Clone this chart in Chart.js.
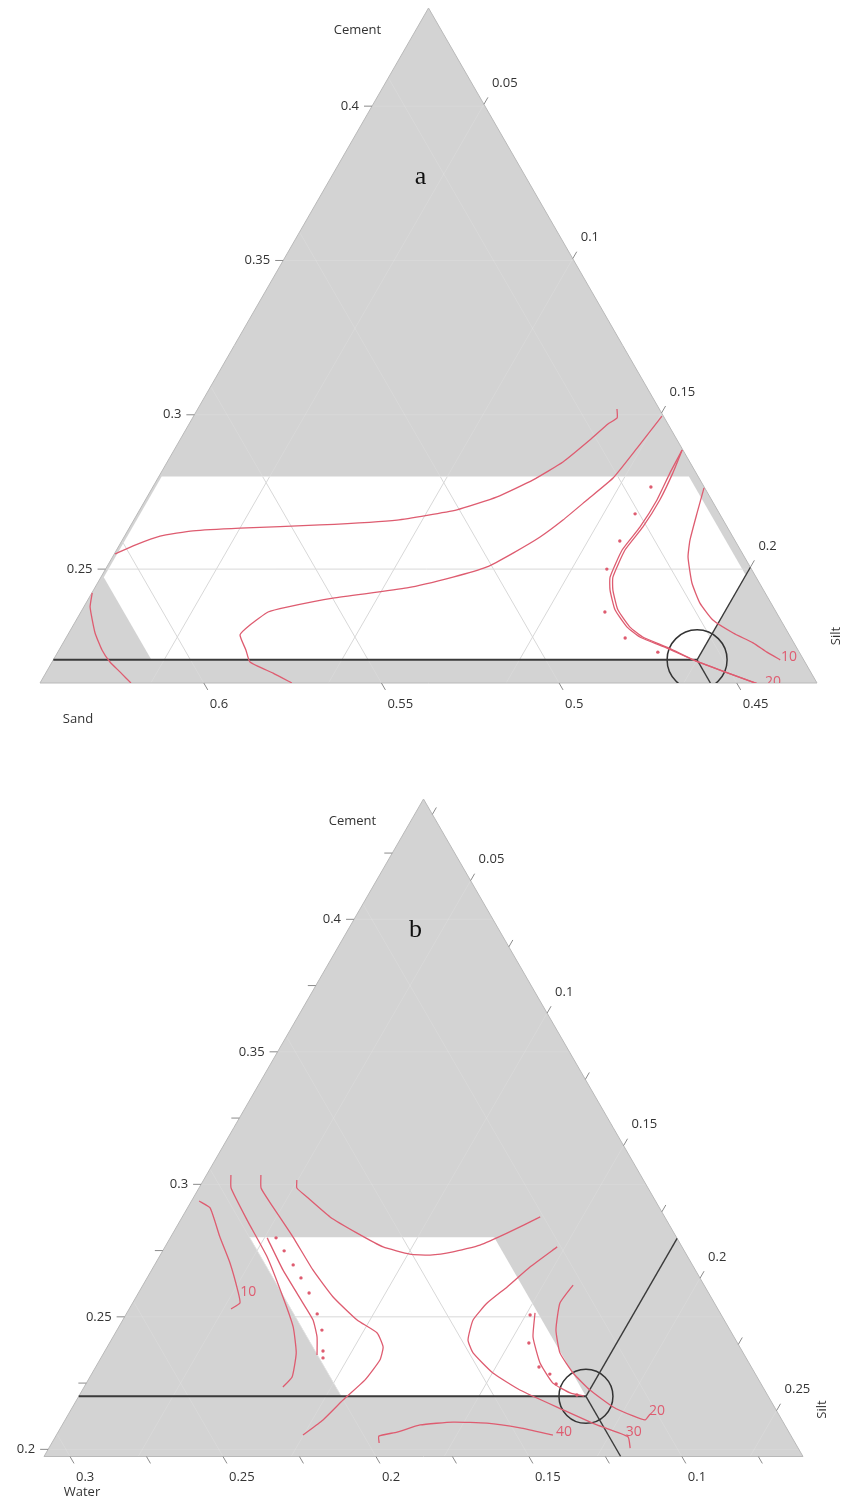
<!DOCTYPE html>
<html><head><meta charset="utf-8">
<script src="https://cdn.jsdelivr.net/npm/chart.js@4.4.1/dist/chart.umd.min.js"></script>
<style>
html,body{margin:0;padding:0;background:#fff;}
#wrap{position:relative;width:848px;height:1503px;overflow:hidden;}
canvas{position:absolute;left:0;}
#ca{top:0;width:848px;height:750px;}
#cb{top:750px;width:848px;height:753px;}
</style></head><body>
<div id="wrap"><canvas id="ca" width="848" height="750"></canvas><canvas id="cb" width="848" height="753"></canvas></div>
<script>
// ================= DATA (compositions: points are [silt, cement]) =================
// ---- Panel a : Cement / Silt / Sand (water fixed)
const aFrame = {cmin:0.2131, smin:0.0188, L:0.2187, total:0.878};
const aCementTicks = [0.25, 0.3, 0.35, 0.4];
const aSiltTicks   = [0.05, 0.1, 0.15, 0.2];
const aSandTicks   = [0.6, 0.55, 0.5, 0.45];
const aCementRange = [0.2206, 0.28];
const aSiltRange   = [0.0196, 0.2];
const aSandRange   = [0.43, 0.611];
const aOptimum     = [0.2, 0.2206];
const aContour1 = [[0.0190,0.2549],[0.0232,0.2578],[0.0288,0.2607],[0.0372,0.2624],[0.0500,0.2633],[0.0720,0.2643],[0.0929,0.2659],[0.1081,0.2692],[0.1173,0.2734],[0.1247,0.2789],[0.1302,0.2847],[0.1342,0.2918],[0.1367,0.2970],[0.1383,0.2990],[0.1368,0.3019]];
const aContour2 = [[0.0897,0.2131],[0.0828,0.2163],[0.0745,0.2199],[0.0714,0.2238],[0.0673,0.2287],[0.0685,0.2319],[0.0715,0.2361],[0.0760,0.2377],[0.0875,0.2406],[0.1067,0.2439],[0.1179,0.2474],[0.1258,0.2507],[0.1309,0.2552],[0.1359,0.2604],[0.1396,0.2659],[0.1431,0.2724],[0.1469,0.2795],[0.1488,0.2892],[0.1506,0.2996]];
const aContour3 = [[0.1618,0.2886],[0.1621,0.2811],[0.1628,0.2724],[0.1624,0.2636],[0.1611,0.2562],[0.1621,0.2474],[0.1642,0.2432],[0.1688,0.2368],[0.1750,0.2312],[0.1802,0.2280],[0.1896,0.2244],[0.1989,0.2206],[0.2081,0.2173],[0.2193,0.2134],[0.2268,0.2108]];
const aContour3b = [[0.1618,0.2886],[0.1629,0.2811],[0.1636,0.2724],[0.1632,0.2636],[0.1619,0.2562],[0.1629,0.2474],[0.1650,0.2432],[0.1696,0.2368],[0.1758,0.2312],[0.1810,0.2280],[0.1902,0.2244],[0.1989,0.2206],[0.2081,0.2173],[0.2193,0.2134],[0.2268,0.2108]];
const aContour4 = [[0.1741,0.2763],[0.1762,0.2682],[0.1786,0.2594],[0.1808,0.2539],[0.1861,0.2455],[0.1916,0.2390],[0.1980,0.2335],[0.2058,0.2293],[0.2130,0.2261],[0.2184,0.2231],[0.2234,0.2206]];
const aContour5 = [[0.0189,0.2423],[0.0206,0.2377],[0.0262,0.2293],[0.0309,0.2238],[0.0351,0.2199],[0.0395,0.2167],[0.0444,0.2131]];
const aDots = [[0.1590,0.2766],[0.1589,0.2679],[0.1590,0.2591],[0.1599,0.2500],[0.1663,0.2361],[0.1762,0.2277],[0.1877,0.2231]];
const aLabelText = ['10', '20'];
const aLabelAt   = [[0.2254,0.2215],[0.2250,0.2134]];

// ---- Panel b : Cement / Silt / Water (sand fixed)
const bFrame = {cmin:0.1973, smin:0.0192, L:0.2481, total:0.525};
const bCementTicks = [0.2, 0.25, 0.3, 0.35, 0.4];
const bCementMinor = [0.225, 0.275, 0.325, 0.375, 0.425];
const bSiltTicks   = [0.05, 0.1, 0.15, 0.2, 0.25];
const bSiltMinor   = [0.025, 0.075, 0.125, 0.175, 0.225];
const bWaterTicks  = [0.3, 0.25, 0.2, 0.15, 0.1];
const bWaterMinor  = [0.275, 0.225, 0.175, 0.125, 0.075];
const bCementRange = [0.22, 0.28];
const bWaterRange  = [0.12, 0.2];
const bOptimum     = [0.185, 0.22];
const bContour1 = [[0.0217,0.2937],[0.0266,0.2911],[0.0353,0.2801],[0.0435,0.2703],[0.0516,0.2594],[0.0543,0.2552],[0.0525,0.2530]];
const bContour2 = [[0.0272,0.3035],[0.0297,0.2986],[0.0409,0.2866],[0.0545,0.2726],[0.0672,0.2575],[0.0762,0.2462],[0.0821,0.2364],[0.0853,0.2273],[0.0842,0.2235]];
const bContour3 = [[0.0370,0.3035],[0.0395,0.2986],[0.0453,0.2930],[0.0592,0.2801],[0.0719,0.2677],[0.0836,0.2575],[0.0958,0.2488],[0.1048,0.2439],[0.1094,0.2386],[0.1108,0.2337],[0.1097,0.2262],[0.1063,0.2186],[0.1035,0.2111],[0.0998,0.2054]];
const bContour4 = [[0.0509,0.2798],[0.0621,0.2677],[0.0749,0.2552],[0.0814,0.2488],[0.0859,0.2424],[0.0893,0.2356]];
const bContour5 = [[0.0497,0.3016],[0.0512,0.2986],[0.0562,0.2952],[0.0675,0.2877],[0.0794,0.2816],[0.0905,0.2764],[0.1006,0.2737],[0.1074,0.2733],[0.1143,0.2745],[0.1218,0.2771],[0.1284,0.2816],[0.1362,0.2877]];
const bContour6 = [[0.1474,0.2764],[0.1423,0.2688],[0.1386,0.2613],[0.1351,0.2552],[0.1337,0.2488],[0.1358,0.2413],[0.1399,0.2364],[0.1502,0.2288],[0.1622,0.2224],[0.1801,0.2149],[0.1940,0.2092],[0.2064,0.2047],[0.2092,0.2005]];
const bContour7 = [[0.1526,0.2515],[0.1565,0.2424],[0.1637,0.2326],[0.1717,0.2250],[0.1792,0.2213],[0.1843,0.2201]];
const bContour8 = [[0.1598,0.2620],[0.1589,0.2552],[0.1627,0.2450],[0.1683,0.2364],[0.1764,0.2288],[0.1851,0.2224],[0.1959,0.2160],[0.2041,0.2126],[0.2088,0.2111],[0.2093,0.2133]];
const bContour9 = [[0.1262,0.2024],[0.1248,0.2050],[0.1300,0.2065],[0.1362,0.2092],[0.1464,0.2103],[0.1577,0.2099],[0.1694,0.2081],[0.1815,0.2054]];
const bDots = [[0.0538,0.2798],[0.0589,0.2749],[0.0645,0.2696],[0.0695,0.2647],[0.0750,0.2590],[0.0816,0.2511],[0.0862,0.2450],[0.0905,0.2371],[0.0918,0.2345],[0.1514,0.2507],[0.1563,0.2401],[0.1641,0.2311],[0.1690,0.2284],[0.1729,0.2247],[0.1818,0.2205]];
const bLabelText = ['10', '20', '30', '40'];
const bLabelAt   = [[0.0549,0.2594],[0.2110,0.2145],[0.2074,0.2065],[0.1846,0.2065]];

// ================= HELPERS =================
const RED = 'rgb(222,92,112)';
const FONT = '"Open Sans", "DejaVu Sans", sans-serif';
function tern(F, s, c){ return {x:(s - F.smin) + (c - F.cmin)/2, y:c}; }
function pts(F, arr){ return arr.map(p => tern(F, p[0], p[1])); }
function clipPoly(poly, f){
  const out = [];
  for (let i = 0; i < poly.length; i++){
    const a = poly[i], b = poly[(i+1) % poly.length];
    const fa = f(a), fb = f(b);
    if (fa >= 0) out.push(a);
    if ((fa >= 0) !== (fb >= 0)){ const t = fa/(fa - fb); out.push([a[0] + t*(b[0]-a[0]), a[1] + t*(b[1]-a[1])]); }
  }
  return out;
}
function lineDS(F, arr, w){ return {data:pts(F, arr), showLine:true, borderColor:RED, borderWidth:w||1.3, pointRadius:0, tension:0.15, fill:false, clip:0}; }
function dotsDS(F, arr){ return {data:pts(F, arr), showLine:false, pointRadius:1.7, pointBackgroundColor:RED, pointBorderWidth:0, clip:0}; }
function crossDS(F, opt, r){
  const [s0, c0] = opt;
  const segs = [
    [[F.smin, c0], [s0, c0], 2],
    [[s0, c0], [s0, F.cmin + F.smin + F.L - s0], 1.4],
    [[s0, c0], [s0 + c0 - F.cmin, F.cmin], 1.4]
  ];
  const ds = segs.map(sg => ({data:pts(F, [sg[0], sg[1]]), showLine:true, borderColor:'#3a3a3a', borderWidth:sg[2], pointRadius:0, clip:0}));
  ds.push({data:pts(F, [opt]), showLine:false, pointStyle:'circle', pointRadius:r, pointBackgroundColor:'rgba(0,0,0,0)', pointBorderColor:'#333', pointBorderWidth:1.5, clip:0});
  return ds;
}

function ternaryPlugin(cfg){
  const F = cfg.frame;
  const tri = [[F.smin, F.cmin], [F.smin + F.L, F.cmin], [F.smin, F.cmin + F.L]];
  function gridSegs(){
    const segs = [];
    cfg.cTicks.forEach(v => segs.push([[F.smin, v], [F.smin + F.L - (v - F.cmin), v]]));
    cfg.sTicks.forEach(v => segs.push([[v, F.cmin], [v, F.cmin + F.L - (v - F.smin)]]));
    cfg.tTicks.forEach(v => { const u = F.total - v; segs.push([[u - F.cmin, F.cmin], [F.smin, u - F.smin]]); });
    return segs;
  }
  return {
    id:'ternary_' + cfg.name,
    beforeDatasetsDraw(chart){
      const ctx = chart.ctx, xs = chart.scales.x, ys = chart.scales.y;
      const P = (s, c) => { const q = tern(F, s, c); return [xs.getPixelForValue(q.x), ys.getPixelForValue(q.y)]; };
      const path = poly => { ctx.beginPath(); poly.forEach((p, i) => { const q = P(p[0], p[1]); if (i) ctx.lineTo(q[0], q[1]); else ctx.moveTo(q[0], q[1]); }); ctx.closePath(); };
      const segs = gridSegs();
      ctx.save();
      path(tri); ctx.fillStyle = '#d3d3d3'; ctx.fill();
      ctx.save(); path(tri); ctx.clip();
      ctx.strokeStyle = 'rgba(255,255,255,0.13)'; ctx.lineWidth = 1;
      segs.forEach(sg => { const a = P(sg[0][0], sg[0][1]), b = P(sg[1][0], sg[1][1]); ctx.beginPath(); ctx.moveTo(a[0], a[1]); ctx.lineTo(b[0], b[1]); ctx.stroke(); });
      ctx.restore();
      let reg = tri;
      cfg.constraints.forEach(f => { reg = clipPoly(reg, f); });
      path(reg); ctx.fillStyle = '#ffffff'; ctx.fill();
      ctx.save(); path(reg); ctx.clip();
      ctx.strokeStyle = '#d8d8d8'; ctx.lineWidth = 1;
      segs.forEach(sg => { const a = P(sg[0][0], sg[0][1]), b = P(sg[1][0], sg[1][1]); ctx.beginPath(); ctx.moveTo(a[0], a[1]); ctx.lineTo(b[0], b[1]); ctx.stroke(); });
      ctx.restore();
      path(tri); ctx.strokeStyle = '#b9b9b9'; ctx.lineWidth = 1; ctx.stroke();
      ctx.restore();
    },
    afterDraw(chart){
      const ctx = chart.ctx, xs = chart.scales.x, ys = chart.scales.y, ca = chart.chartArea;
      const P = (s, c) => { const q = tern(F, s, c); return [xs.getPixelForValue(q.x), ys.getPixelForValue(q.y)]; };
      ctx.save();
      ctx.strokeStyle = '#8a8a8a'; ctx.lineWidth = 1;
      ctx.fillStyle = '#333'; ctx.font = '13px ' + FONT;
      const tk = 8;
      const cTick = (v, lab) => { const p = P(F.smin, v); ctx.beginPath(); ctx.moveTo(p[0] - tk, p[1]); ctx.lineTo(p[0], p[1]); ctx.stroke();
        if (lab){ ctx.textAlign = 'right'; ctx.textBaseline = 'middle'; ctx.fillText(String(v), p[0] - 13, p[1]); } };
      const sTick = (v, lab) => { const p = P(v, F.cmin + F.L - (v - F.smin)); ctx.beginPath(); ctx.moveTo(p[0], p[1]); ctx.lineTo(p[0] + tk*0.5, p[1] - tk*0.866); ctx.stroke();
        if (lab){ ctx.textAlign = 'left'; ctx.textBaseline = 'middle'; ctx.fillText(String(v), p[0] + 8, p[1] - 21); } };
      const tTick = (v, lab) => { const u = F.total - v; const p = P(u - F.cmin, F.cmin); ctx.beginPath(); ctx.moveTo(p[0], p[1]); ctx.lineTo(p[0] + tk*0.5, p[1] + tk*0.866); ctx.stroke();
        if (lab){ ctx.textAlign = 'left'; ctx.textBaseline = 'middle'; ctx.fillText(String(v), p[0] + 6, p[1] + 21); } };
      cfg.cTicks.forEach(v => cTick(v, true)); (cfg.cMinor || []).forEach(v => cTick(v, false));
      cfg.sTicks.forEach(v => sTick(v, true)); (cfg.sMinor || []).forEach(v => sTick(v, false));
      cfg.tTicks.forEach(v => tTick(v, true)); (cfg.tMinor || []).forEach(v => tTick(v, false));
      // axis titles
      const apex = P(F.smin, F.cmin + F.L), bl = P(F.smin, F.cmin), br = P(F.smin + F.L, F.cmin);
      ctx.font = '13px ' + FONT; ctx.textAlign = 'center'; ctx.textBaseline = 'middle'; ctx.fillStyle = '#333';
      ctx.fillText('Cement', apex[0] - 71, apex[1] + 22);
      ctx.fillText(cfg.thirdName, bl[0] + 38, bl[1] + 36);
      ctx.save(); ctx.translate(br[0] + 19, br[1] - 47); ctx.rotate(-Math.PI/2); ctx.fillText('Silt', 0, 0); ctx.restore();
      // panel letter
      ctx.font = '26px "Liberation Serif", "DejaVu Serif", serif'; ctx.fillStyle = '#111';
      ctx.fillText(cfg.name, apex[0] + cfg.letterOff[0], apex[1] + cfg.letterOff[1]);
      // contour labels (clipped to plot area)
      ctx.save(); ctx.beginPath(); ctx.rect(ca.left - 60, ca.top, ca.right - ca.left + 120, ca.bottom - ca.top); ctx.clip();
      ctx.font = '14px ' + FONT; ctx.fillStyle = RED; ctx.textAlign = 'center'; ctx.textBaseline = 'middle';
      cfg.labelText.forEach((t, i) => { const p = P(cfg.labelAt[i][0], cfg.labelAt[i][1]); ctx.fillText(t, p[0], p[1]); });
      ctx.restore();
      ctx.restore();
    }
  };
}

function makeChart(id, cfg){
  const F = cfg.frame;
  return new Chart(document.getElementById(id), {
    type:'scatter',
    data:{datasets:cfg.datasets},
    options:{
      responsive:false, maintainAspectRatio:false, animation:false, devicePixelRatio:1, events:[],
      layout:{padding:cfg.padding, autoPadding:false},
      plugins:{legend:{display:false}, tooltip:{enabled:false}, title:{display:false}},
      scales:{
        x:{type:'linear', display:false, min:0, max:F.L},
        y:{type:'linear', display:false, min:F.cmin, max:F.cmin + F.L}
      }
    },
    plugins:[ternaryPlugin(cfg)]
  });
}

// ---- panel a
const aSandOf = p => aFrame.total - p[0] - p[1];
makeChart('ca', {
  name:'a', frame:aFrame, thirdName:'Sand', letterOff:[-8, 169],
  padding:{left:40, right:31, top:8, bottom:67},
  cTicks:aCementTicks, sTicks:aSiltTicks, tTicks:aSandTicks,
  constraints:[
    p => p[1] - aCementRange[0], p => aCementRange[1] - p[1],
    p => p[0] - aSiltRange[0], p => aSiltRange[1] - p[0],
    p => aSandOf(p) - aSandRange[0], p => aSandRange[1] - aSandOf(p)
  ],
  labelText:aLabelText, labelAt:aLabelAt,
  datasets:[
    lineDS(aFrame, aContour1), lineDS(aFrame, aContour2), lineDS(aFrame, aContour3), lineDS(aFrame, aContour3b),
    lineDS(aFrame, aContour4), lineDS(aFrame, aContour5), dotsDS(aFrame, aDots)
  ].concat(crossDS(aFrame, aOptimum, 30))
});

// ---- panel b
const bWaterOf = p => bFrame.total - p[0] - p[1];
makeChart('cb', {
  name:'b', frame:bFrame, thirdName:'Water', letterOff:[-8, 131],
  padding:{left:44, right:45, top:49, bottom:46.5},
  cTicks:bCementTicks, cMinor:bCementMinor, sTicks:bSiltTicks, sMinor:bSiltMinor, tTicks:bWaterTicks, tMinor:bWaterMinor,
  constraints:[
    p => p[1] - bCementRange[0], p => bCementRange[1] - p[1],
    p => bWaterOf(p) - bWaterRange[0], p => bWaterRange[1] - bWaterOf(p)
  ],
  labelText:bLabelText, labelAt:bLabelAt,
  datasets:[
    lineDS(bFrame, bContour1), lineDS(bFrame, bContour2), lineDS(bFrame, bContour3), lineDS(bFrame, bContour4),
    lineDS(bFrame, bContour5), lineDS(bFrame, bContour6), lineDS(bFrame, bContour7), lineDS(bFrame, bContour8),
    lineDS(bFrame, bContour9), dotsDS(bFrame, bDots)
  ].concat(crossDS(bFrame, bOptimum, 27))
});
</script>
</body></html>
